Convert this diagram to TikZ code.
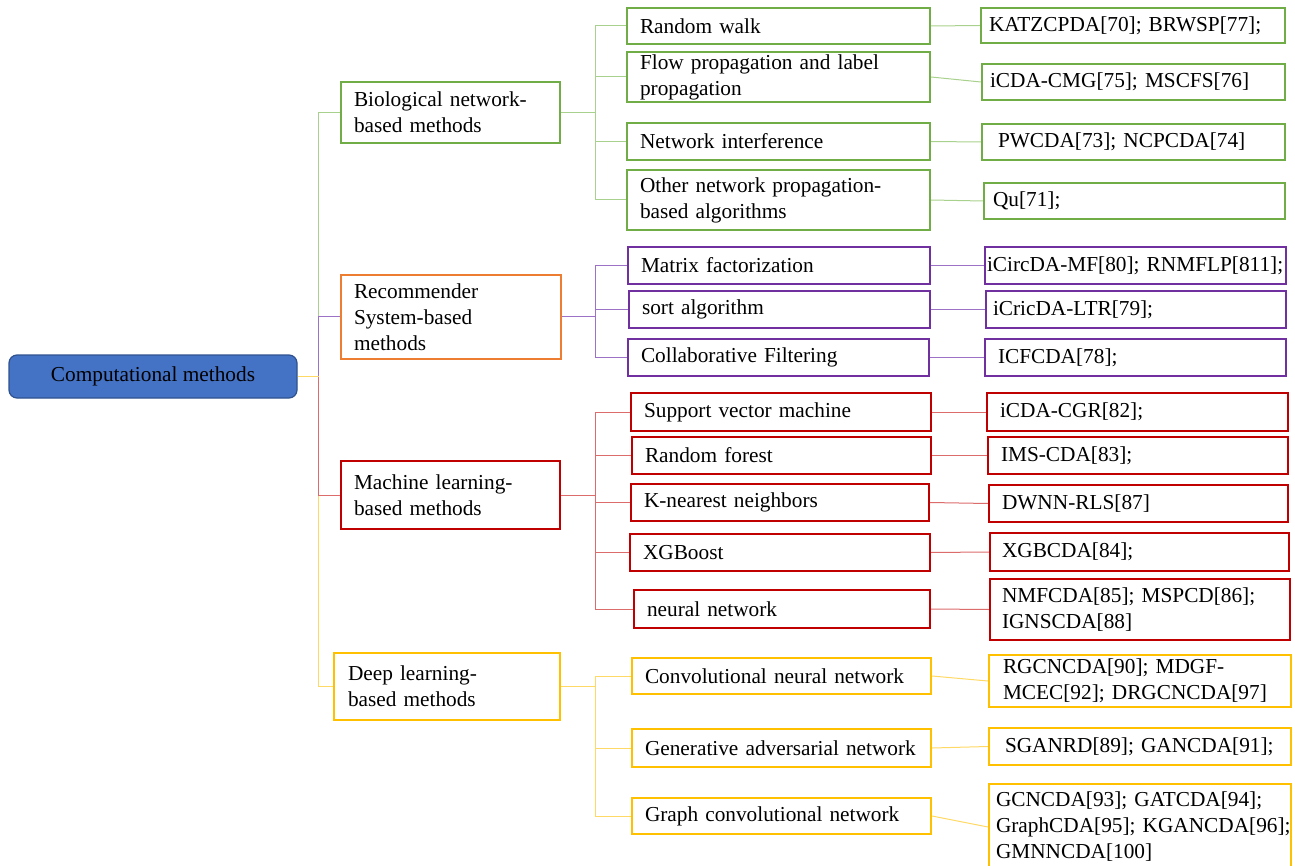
\documentclass[tikz,border=0pt]{standalone}
\usepackage{fontspec}
\setmainfont{Liberation Serif}
\definecolor{cgreen}{HTML}{70AD47}
\definecolor{corange}{HTML}{ED7D31}
\definecolor{cpurple}{HTML}{7030A0}
\definecolor{cred}{HTML}{C00000}
\definecolor{cyellow}{HTML}{FFC000}
\definecolor{rootfill}{HTML}{4472C4}
\definecolor{rootdraw}{HTML}{2F528F}
\definecolor{lgreen}{HTML}{A9D18E}
\definecolor{lpurple}{HTML}{9B72C6}
\definecolor{lred}{HTML}{DC6B6B}
\definecolor{lyellow}{HTML}{FFD966}
\begin{document}
\begin{tikzpicture}[x=1pt,y=-1pt,
  bx/.style={draw, line width=2.2pt, fill=white, align=left, inner ysep=1pt,
    font=\fontsize{21.3}{26}\selectfont},
  gbox/.style={bx, draw=cgreen},
  obox/.style={bx, draw=corange},
  pbox/.style={bx, draw=cpurple},
  rbox/.style={bx, draw=cred},
  ybox/.style={bx, draw=cyellow},
  gl/.style={draw=lgreen, line width=1pt},
  pl/.style={draw=lpurple, line width=1pt},
  rl/.style={draw=lred, line width=1pt},
  yl/.style={draw=lyellow, line width=1pt}]
\useasboundingbox (0,0) rectangle (1295,866);

% root
\node[draw=rootdraw, fill=rootfill, line width=1.2pt, rounded corners=8pt,
  minimum width=288pt, minimum height=43pt, font=\fontsize{21.3}{26}\selectfont]
  (root) at (153,376.5) {Computational methods};

% level 1
\node[gbox, text width=193pt, minimum height=61pt, inner xsep=13pt] (bio) at (450.5,112.5) {Biological network-\\based methods};
\node[obox, text width=194pt, minimum height=84pt, inner xsep=13pt] (rec) at (451,317) {Recommender\\System-based\\methods};
\node[rbox, text width=193pt, minimum height=68pt, inner xsep=13pt] (ml) at (450.5,495) {Machine learning-\\based methods};
\node[ybox, text width=198pt, minimum height=67pt, inner xsep=14pt] (dl) at (447,686.5) {Deep learning-\\based methods};

% level 2 green
\node[gbox, text width=277pt, minimum height=36pt, inner xsep=13pt] (rw) at (778.5,26) {Random walk};
\node[gbox, text width=277pt, minimum height=50pt, inner xsep=13pt] (fp) at (778.5,77) {Flow propagation and label\\propagation};
\node[gbox, text width=277pt, minimum height=37pt, inner xsep=13pt] (ni) at (778.5,141.5) {Network interference};
\node[gbox, text width=277pt, minimum height=60pt, inner xsep=13pt] (on) at (778.5,200) {Other network propagation-\\based algorithms};
% level 2 purple
\node[pbox, text width=276pt, minimum height=37pt, inner xsep=13pt] (mf) at (779,265.5) {Matrix factorization};
\node[pbox, text width=275pt, minimum height=37pt, inner xsep=13pt] (sa) at (779.5,309.5) {sort algorithm};
\node[pbox, text width=275pt, minimum height=37pt, inner xsep=13pt] (cf) at (778.5,357.5) {Collaborative Filtering};
% level 2 red
\node[rbox, text width=274pt, minimum height=38pt, inner xsep=13pt] (svm) at (781,412) {Support vector machine};
\node[rbox, text width=273pt, minimum height=37pt, inner xsep=13pt] (rf) at (781.5,455.5) {Random forest};
\node[rbox, text width=272pt, minimum height=37pt, inner xsep=13pt] (knn) at (780,502.5) {K-nearest neighbors};
\node[rbox, text width=274pt, minimum height=37pt, inner xsep=13pt] (xgb) at (780,552.5) {XGBoost};
\node[rbox, text width=270pt, minimum height=38pt, inner xsep=13pt] (nn) at (782,609) {neural network};
% level 2 yellow
\node[ybox, text width=273pt, minimum height=36pt, inner xsep=13pt] (cnn) at (781.5,676) {Convolutional neural network};
\node[ybox, text width=273pt, minimum height=38pt, inner xsep=13pt] (gan) at (781.5,748) {Generative~adversarial~network};
\node[ybox, text width=273pt, minimum height=36pt, inner xsep=13pt] (gcn) at (781.5,816) {Graph convolutional network};

% level 3 green
\node[gbox, text width=288pt, minimum height=35pt, inner xsep=8pt] (r1) at (1133,25.5) {KATZCPDA[70]; BRWSP[77];};
\node[gbox, text width=287pt, minimum height=36pt, inner xsep=8pt] (r2) at (1133.5,82) {iCDA-CMG[75]; MSCFS[76]};
\node[gbox, text width=271pt, minimum height=36pt, inner xsep=16pt] (r3) at (1133.5,142) {PWCDA[73]; NCPCDA[74]};
\node[gbox, text width=283pt, minimum height=36pt, inner xsep=9pt] (r4) at (1134.5,201) {Qu[71];};
% level 3 purple
\node[pbox, text width=297pt, minimum height=37pt, inner xsep=2pt] (p1) at (1135.5,265.5) {iCircDA-MF[80];~RNMFLP[811];};
\node[pbox, text width=286pt, minimum height=37pt, inner xsep=7pt] (p2) at (1136,309.5) {iCricDA-LTR[79];};
\node[pbox, text width=275pt, minimum height=37pt, inner xsep=13pt] (p3) at (1135.5,357.5) {ICFCDA[78];};
% level 3 red
\node[rbox, text width=275pt, minimum height=38pt, inner xsep=13pt] (q1) at (1137.5,412) {iCDA-CGR[82];};
\node[rbox, text width=274pt, minimum height=37pt, inner xsep=13pt] (q2) at (1138,455.5) {IMS-CDA[83];};
\node[rbox, text width=273pt, minimum height=37pt, inner xsep=13pt] (q3) at (1138.5,503.5) {DWNN-RLS[87]};
\node[rbox, text width=275pt, minimum height=38pt, inner xsep=12pt] (q4) at (1139.5,552) {XGBCDA[84];};
\node[rbox, text width=276pt, minimum height=61pt, inner xsep=12pt] (q5) at (1140,609.5) {NMFCDA[85]; MSPCD[86];\\IGNSCDA[88]};
% level 3 yellow
\node[ybox, text width=274pt, minimum height=52pt, inner xsep=14pt] (y1) at (1140,681) {RGCNCDA[90]; MDGF-\\MCEC[92]; DRGCNCDA[97]};
\node[ybox, text width=270pt, minimum height=37pt, inner xsep=16pt] (y2) at (1140,746.5) {SGANRD[89]; GANCDA[91];};
\node[ybox, text width=288pt, minimum height=86pt, inner xsep=7pt] (y3) at (1140,827) {GCNCDA[93]; GATCDA[94];\\GraphCDA[95];~KGANCDA[96];\\GMNNCDA[100]};

% trunk coordinates
\coordinate (t1) at (318,376.5);
\coordinate (tg) at (595,0);

% level 1 connectors
\draw[gl] (root.east) -- (t1) |- (bio.west);
\draw[pl] (t1) |- (rec.west);
\draw[yl] (root.east) -- (t1) |- (dl.west);
\draw[rl] (t1) |- (ml.west);
\draw[yl] (root.east) -- (t1);

% level 2 connectors
\foreach \c in {rw,fp,ni,on}{\draw[gl] (bio.east) -- (bio.east -| tg) |- (\c.west);}
\foreach \c in {mf,sa,cf}{\draw[pl] (rec.east) -- (rec.east -| tg) |- (\c.west);}
\foreach \c in {svm,rf,knn,xgb,nn}{\draw[rl] (ml.east) -- (ml.east -| tg) |- (\c.west);}
\foreach \c in {cnn,gan,gcn}{\draw[yl] (dl.east) -- (dl.east -| tg) |- (\c.west);}

% level 3 connectors
\draw[gl] (rw.east) -- (r1.west);
\draw[gl] (fp.east) -- (r2.west);
\draw[gl] (ni.east) -- (r3.west);
\draw[gl] (on.east) -- (r4.west);
\draw[pl] (mf.east) -- (p1.west);
\draw[pl] (sa.east) -- (p2.west);
\draw[pl] (cf.east) -- (p3.west);
\draw[rl] (svm.east) -- (q1.west);
\draw[rl] (rf.east) -- (q2.west);
\draw[rl] (knn.east) -- (q3.west);
\draw[rl] (xgb.east) -- (q4.west);
\draw[rl] (nn.east) -- (q5.west);
\draw[yl] (cnn.east) -- (y1.west);
\draw[yl] (gan.east) -- (y2.west);
\draw[yl] (gcn.east) -- (y3.west);
\end{tikzpicture}
\end{document}
